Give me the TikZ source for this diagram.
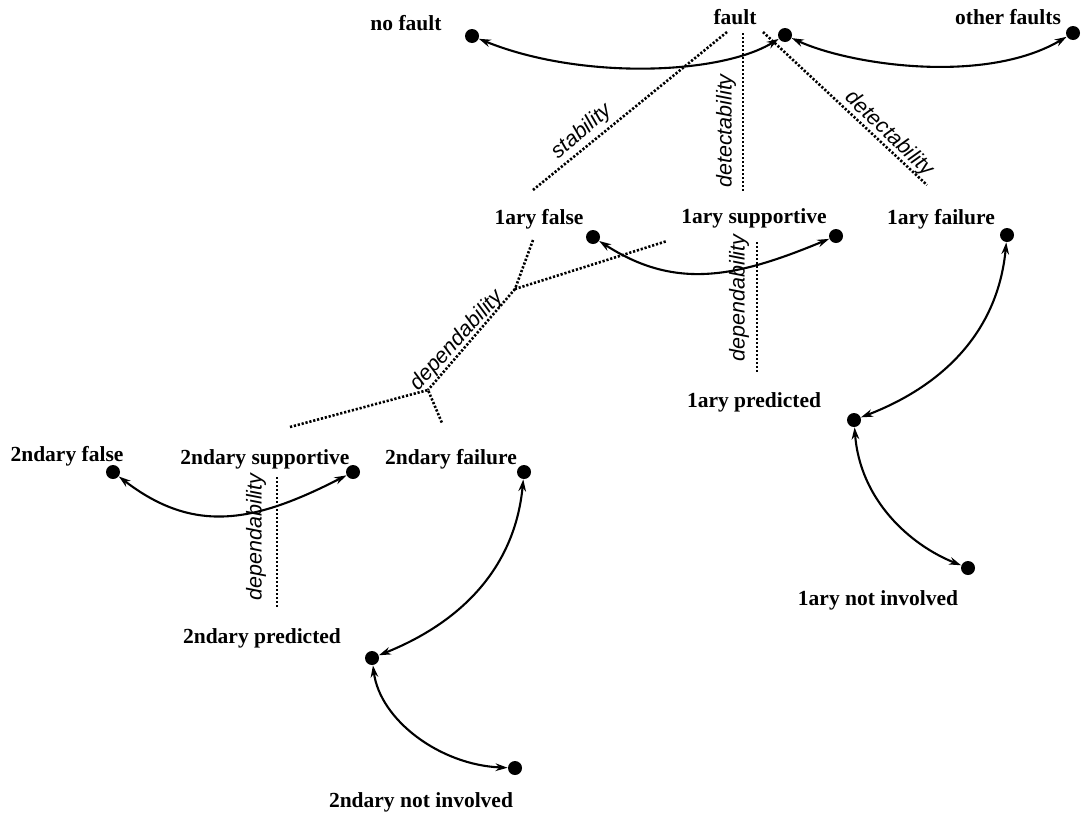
\documentclass[tikz,border=0pt]{standalone}
\usepackage{fontspec}
\setmainfont{Liberation Serif}
\setsansfont{Liberation Sans}
\usetikzlibrary{arrows.meta}
\begin{document}
\begin{tikzpicture}[x=0.5pt,y=-0.5pt,
  state/.style={font=\fontsize{10.75}{12}\selectfont\bfseries, inner sep=0pt, anchor=base},
  dot/.style={circle, fill=black, inner sep=0pt, minimum size=7pt},
  link/.style={line width=1.05pt, {Stealth[length=6pt,width=3.8pt]}-{Stealth[length=6pt,width=3.8pt]}},
  measure/.style={line width=1.3pt, dash pattern=on 1.1pt off 0.9pt},
  prop/.style={font=\fontsize{10.75}{12}\selectfont\sffamily\itshape, inner sep=0pt}]
\useasboundingbox (0,0) rectangle (1085,814);

% state labels
\node[state] (lnf)  at (406,30)  {no fault};
\node[state] (lf)   at (735,24)  {fault};
\node[state] (lof)  at (1008,24) {other faults};
\node[state] (l1f)  at (539,224) {1ary false};
\node[state] (l1s)  at (754,223) {1ary supportive};
\node[state] (l1fl) at (941,224) {1ary failure};
\node[state] (l1p)  at (754,407) {1ary predicted};
\node[state] (l1n)  at (878,605) {1ary not involved};
\node[state] (l2f)  at (67,461)  {2ndary false};
\node[state] (l2s)  at (265,464) {2ndary supportive};
\node[state] (l2fl) at (451,464) {2ndary failure};
\node[state] (l2p)  at (262,643) {2ndary predicted};
\node[state] (l2n)  at (421,807) {2ndary not involved};

% state dots
\node[dot] (nf)  at (472,36)  {};
\node[dot] (f)   at (785,35)  {};
\node[dot] (of)  at (1073,33) {};
\node[dot] (a1f) at (593,237) {};
\node[dot] (a1s) at (836,236) {};
\node[dot] (a1l) at (1007,235) {};
\node[dot] (a1p) at (854,420) {};
\node[dot] (a1n) at (968,568) {};
\node[dot] (a2f) at (113,472) {};
\node[dot] (a2s) at (353,472) {};
\node[dot] (a2l) at (524,472) {};
\node[dot] (a2p) at (372,658) {};
\node[dot] (a2n) at (515,768) {};

% transitions
\draw[link] (nf)  .. controls (580,80)  and (720,75)  .. (f);
\draw[link] (f)   .. controls (850,65)  and (985,85)  .. (of);
\draw[link] (a1f) .. controls (675,290) and (735,278) .. (a1s);
\draw[link] (a2f) .. controls (195,535) and (255,522) .. (a2s);
\draw[link] (a1l) .. controls (998,330) and (945,385) .. (a1p);
\draw[link] (a1p) .. controls (860,500) and (910,545) .. (a1n);
\draw[link] (a2l) .. controls (515,567) and (462,622) .. (a2p);
\draw[link] (a2p) .. controls (380,720) and (440,765) .. (a2n);

% measure boundaries
\coordinate (s1) at (727,32);  \coordinate (s2) at (533,190);
\coordinate (d1) at (743,33);  \coordinate (d2) at (743,192);
\coordinate (e1) at (763,32);  \coordinate (e2) at (927,185);
\coordinate (p1) at (757,242); \coordinate (p2) at (757,372);
\coordinate (q1) at (277,477); \coordinate (q2) at (277,607);
\coordinate (ft) at (515,289); \coordinate (fb) at (428,390);
\coordinate (fu) at (533,240); \coordinate (fr) at (667,241);
\coordinate (fl) at (290,427); \coordinate (fd) at (442,423);

\draw[measure] (s1) -- (s2);
\draw[measure] (d1) -- (d2);
\draw[measure] (e1) -- (e2);
\draw[measure] (p1) -- (p2);
\draw[measure] (q1) -- (q2);
\draw[measure] (fu) -- (ft) -- (fr);
\draw[measure] (ft) -- (fb);
\draw[measure] (fl) -- (fb) -- (fd);

% measure names
\node[prop, rotate=41]    (tst) at (582,132) {stability};
\node[prop, rotate=90]    (tdv) at (726,131) {detectability};
\node[prop, rotate=-43.5] (tdd) at (889,134) {detectability};
\node[prop, rotate=90]    (tp1) at (739,298) {dependability};
\node[prop, rotate=47.6]  (tpd) at (457,341) {dependability};
\node[prop, rotate=90]    (tp2) at (256,537) {dependability};
\end{tikzpicture}
\end{document}
